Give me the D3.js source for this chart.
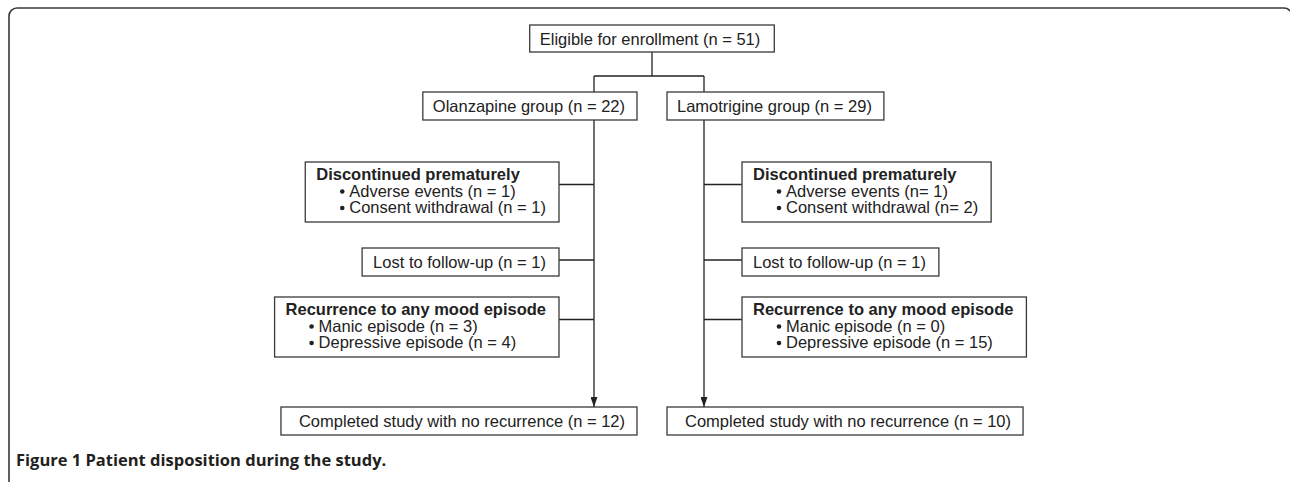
<!DOCTYPE html>
<html>
<head>
<meta charset="utf-8">
<script src="https://cdn.jsdelivr.net/npm/d3@7"></script>
<style>
  body { margin: 0; background: #fff; }
  svg { display: block; }
</style>
</head>
<body>
<div id="chart"></div>
<script>
// text of the flow diagram
var topLabel = "Eligible for enrollment (n = 51)";
var groupLabels = ["Olanzapine group (n = 22)", "Lamotrigine group (n = 29)"];
var stepTitles = ["Discontinued prematurely", "Lost to follow-up (n = 1)", "Recurrence to any mood episode"];
var olanzapineItems = [
    ["Adverse events (n = 1)", "Consent withdrawal (n = 1)"],
    [],
    ["Manic episode (n = 3)", "Depressive episode (n = 4)"]
];
var lamotrigineItems = [
    ["Adverse events (n= 1)", "Consent withdrawal (n= 2)"],
    [],
    ["Manic episode (n = 0)", "Depressive episode (n = 15)"]
];
var completedLabels = ["Completed study with no recurrence (n = 12)", "Completed study with no recurrence (n = 10)"];
var captionText = "Figure 1 Patient disposition during the study.";

function flow() {

    var width = 1290,
        height = 482;
    var fontSize = 16.5,
        lineGap = 16.5,
        ink = "#222";

    // layout: rows go top->bottom, column 0 = olanzapine, column 1 = lamotrigine
    var rowY = d3.scaleOrdinal()
        .domain(["top", "group", "step0", "step1", "step2", "done"])
        .range([25, 92, 162, 248, 297, 407]);
    var trunkX = d3.scaleOrdinal().domain([0, 1]).range([594, 704]);   // the two vertical lines
    var groupEdge = d3.scaleOrdinal().domain([0, 1]).range([637, 667]); // inner edge of group / completed boxes
    var sideEdge = d3.scaleOrdinal().domain([0, 1]).range([559, 742]);  // inner edge of the side boxes
    var splitY = 76;

    var svg = d3.select("#chart")
        .append("svg")
        .attr("width", width)
        .attr("height", height)
        .style("font-family", "'Liberation Sans', Arial, sans-serif");

    var defs = svg.append("defs");
    defs.append("marker")   // arrow head: ~10px long, ~7px wide
        .attr("id", "arrow")
        .attr("viewBox", "0 0 10 7")
        .attr("refX", 10)
        .attr("refY", 3.5)
        .attr("markerWidth", 10)
        .attr("markerHeight", 7)
        .attr("markerUnits", "userSpaceOnUse")
        .attr("orient", "auto")
        .append("path")
        .attr("d", "M0,0L10,3.5L0,7Z")
        .attr("fill", ink);

    // outer rounded frame (right + bottom run off the picture)
    svg.append("rect")
        .attr("x", 9)
        .attr("y", 8)
        .attr("width", 1283)
        .attr("height", 500)
        .attr("rx", 8)
        .attr("fill", "none")
        .attr("stroke", "#3a3a3a")
        .attr("stroke-width", 1.6);

    var lines = svg.append("g").attr("class", "links");
    var boxes = svg.append("g").attr("class", "boxes");

    // draws a box around some lines of text; width comes from the text itself
    function addBox(rows, o) {
        var g = boxes.append("g");
        var rect = g.append("rect");
        var t = g.append("text")
            .attr("font-size", fontSize)
            .attr("fill", ink);
        rows.forEach(function (r, i) {
            t.append("tspan")
                .attr("x", r.bullet ? 33 : 0)
                .attr("y", i * lineGap)
                .attr("font-weight", r.bold ? "bold" : null)
                .text(r.text);
        });
        var bb = t.node().getBBox();
        var w = bb.x + bb.width + o.padL + o.padR;
        var h = rows.length == 1 ? o.h1 : 18 + lineGap * (rows.length - 1) + 9;
        var x = o.align == "right" ? o.edge - w : (o.align == "center" ? o.edge - w / 2 : o.edge);
        var base = rows.length == 1 ? 19.5 : 18;
        rect.attr("x", x)
            .attr("y", o.top)
            .attr("width", w)
            .attr("height", h)
            .attr("fill", "#fff")
            .attr("stroke", "#3a3a3a")
            .attr("stroke-width", 1.3);
        t.attr("transform", "translate(" + (x + o.padL) + "," + (o.top + base) + ")");
        // little round bullets in front of the list items
        rows.forEach(function (r, i) {
            if (!r.bullet) return;
            g.append("circle")
                .attr("cx", x + o.padL + 26)
                .attr("cy", o.top + base + i * lineGap - 5)
                .attr("r", 2.3)
                .attr("fill", ink);
        });
        return {x: x, y: o.top, w: w, h: h};
    }

    // eligible box on top
    var topBox = addBox([{text: topLabel}], {align: "center", edge: 652, top: rowY("top"), padL: 10, padR: 14, h1: 27});

    lines.append("line")
        .attr("x1", 652).attr("x2", 652)
        .attr("y1", topBox.y + topBox.h).attr("y2", splitY);
    lines.append("line")
        .attr("x1", trunkX(0)).attr("x2", trunkX(1))
        .attr("y1", splitY).attr("y2", splitY);

    var itemsByGroup = [olanzapineItems, lamotrigineItems];

    groupLabels.forEach(function (label, gi) {
        var align = gi == 0 ? "right" : "left";
        var gBox = addBox([{text: label}], {align: align, edge: groupEdge(gi), top: rowY("group"), padL: 10, padR: 12, h1: 28});

        lines.append("line")
            .attr("x1", trunkX(gi)).attr("x2", trunkX(gi))
            .attr("y1", splitY).attr("y2", gBox.y);

        // main trunk with the arrow at the end
        lines.append("line")
            .attr("x1", trunkX(gi)).attr("x2", trunkX(gi))
            .attr("y1", gBox.y + gBox.h).attr("y2", rowY("done"))
            .attr("marker-end", "url(#arrow)");

        stepTitles.forEach(function (title, si) {
            var items = itemsByGroup[gi][si];
            var rows = [{text: title, bold: items.length > 0}].concat(items.map(function (d) {
                return {text: d, bullet: true};
            }));
            var b = addBox(rows, {align: align, edge: sideEdge(gi), top: rowY("step" + si), padL: 11, padR: 13, h1: 28});
            var cy = b.y + (rows.length == 1 ? 12 : 22.5);
            lines.append("line")
                .attr("x1", gi == 0 ? b.x + b.w : b.x)
                .attr("x2", trunkX(gi))
                .attr("y1", cy).attr("y2", cy);
        });

        addBox([{text: completedLabels[gi]}], {align: align, edge: groupEdge(gi), top: rowY("done"), padL: 18, padR: 12, h1: 28});
    });

    lines.selectAll("line")
        .attr("stroke", ink)
        .attr("stroke-width", 1.3);

    // figure caption
    svg.append("text")
        .attr("x", 16)
        .attr("y", 466)
        .attr("font-family", "'Open Sans', sans-serif")
        .attr("font-weight", "bold")
        .attr("font-size", 16.5)
        .attr("fill", "#231f20")
        .text(captionText);

    return svg;
}

flow();
</script>
</body>
</html>
